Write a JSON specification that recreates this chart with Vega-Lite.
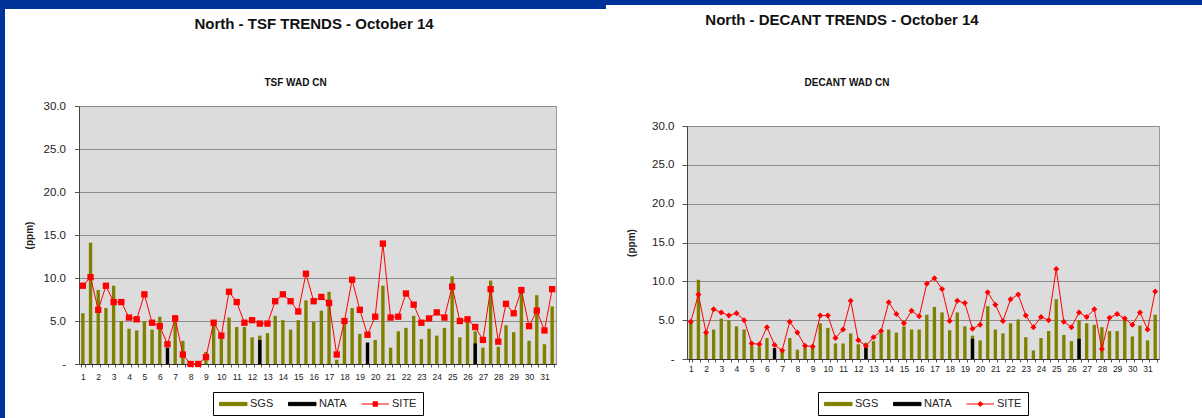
{
  "$schema": "https://vega.github.io/schema/vega-lite/v6.json",
  "padding": 0,
  "spacing": 0,
  "config": {
    "font": "Liberation Sans",
    "view": {"stroke": null},
    "legend": {"layout": {"bottom": {"anchor": "middle"}}}
  },
  "datasets": {
    "tsf": [
      {"i":0,"SGS":5.9,"NATA":null,"SITE":9.1},
      {"i":1,"SGS":14.1,"NATA":null,"SITE":10.1},
      {"i":2,"SGS":8.6,"NATA":null,"SITE":6.3},
      {"i":3,"SGS":6.5,"NATA":null,"SITE":9.1},
      {"i":4,"SGS":9.1,"NATA":null,"SITE":7.2},
      {"i":5,"SGS":5.0,"NATA":null,"SITE":7.2},
      {"i":6,"SGS":4.1,"NATA":null,"SITE":5.4},
      {"i":7,"SGS":3.9,"NATA":null,"SITE":5.2},
      {"i":8,"SGS":5.0,"NATA":null,"SITE":8.1},
      {"i":9,"SGS":4.0,"NATA":null,"SITE":4.8},
      {"i":10,"SGS":5.5,"NATA":null,"SITE":4.4},
      {"i":11,"SGS":null,"NATA":1.9,"SITE":2.3},
      {"i":12,"SGS":5.7,"NATA":null,"SITE":5.3},
      {"i":13,"SGS":2.7,"NATA":null,"SITE":1.1},
      {"i":14,"SGS":null,"NATA":null,"SITE":0.0},
      {"i":15,"SGS":null,"NATA":null,"SITE":0.0},
      {"i":16,"SGS":1.4,"NATA":null,"SITE":0.8},
      {"i":17,"SGS":4.6,"NATA":null,"SITE":4.8},
      {"i":18,"SGS":3.1,"NATA":null,"SITE":3.3},
      {"i":19,"SGS":5.4,"NATA":null,"SITE":8.4},
      {"i":20,"SGS":4.3,"NATA":null,"SITE":7.2},
      {"i":21,"SGS":4.3,"NATA":null,"SITE":4.8},
      {"i":22,"SGS":3.1,"NATA":null,"SITE":5.1},
      {"i":23,"SGS":3.3,"NATA":2.8,"SITE":4.7},
      {"i":24,"SGS":3.6,"NATA":null,"SITE":4.7},
      {"i":25,"SGS":5.6,"NATA":null,"SITE":7.3},
      {"i":26,"SGS":5.1,"NATA":null,"SITE":8.1},
      {"i":27,"SGS":4.0,"NATA":null,"SITE":7.3},
      {"i":28,"SGS":5.1,"NATA":null,"SITE":6.1},
      {"i":29,"SGS":7.4,"NATA":null,"SITE":10.5},
      {"i":30,"SGS":4.9,"NATA":null,"SITE":7.3},
      {"i":31,"SGS":6.2,"NATA":null,"SITE":7.8},
      {"i":32,"SGS":8.4,"NATA":null,"SITE":7.1},
      {"i":33,"SGS":0.5,"NATA":null,"SITE":1.1},
      {"i":34,"SGS":5.0,"NATA":null,"SITE":5.0},
      {"i":35,"SGS":6.5,"NATA":null,"SITE":9.8},
      {"i":36,"SGS":3.5,"NATA":null,"SITE":6.3},
      {"i":37,"SGS":null,"NATA":2.5,"SITE":3.4},
      {"i":38,"SGS":2.8,"NATA":null,"SITE":5.5},
      {"i":39,"SGS":9.1,"NATA":null,"SITE":14.0},
      {"i":40,"SGS":1.9,"NATA":null,"SITE":5.4},
      {"i":41,"SGS":3.8,"NATA":null,"SITE":5.5},
      {"i":42,"SGS":4.2,"NATA":null,"SITE":8.2},
      {"i":43,"SGS":5.6,"NATA":null,"SITE":6.9},
      {"i":44,"SGS":2.9,"NATA":null,"SITE":4.8},
      {"i":45,"SGS":4.1,"NATA":null,"SITE":5.3},
      {"i":46,"SGS":3.3,"NATA":null,"SITE":6.0},
      {"i":47,"SGS":4.2,"NATA":null,"SITE":5.4},
      {"i":48,"SGS":10.2,"NATA":null,"SITE":9.0},
      {"i":49,"SGS":3.1,"NATA":null,"SITE":5.0},
      {"i":50,"SGS":5.0,"NATA":null,"SITE":5.2},
      {"i":51,"SGS":3.8,"NATA":2.4,"SITE":4.3},
      {"i":52,"SGS":1.9,"NATA":null,"SITE":2.8},
      {"i":53,"SGS":9.7,"NATA":null,"SITE":8.7},
      {"i":54,"SGS":2.0,"NATA":null,"SITE":2.6},
      {"i":55,"SGS":4.5,"NATA":null,"SITE":7.0},
      {"i":56,"SGS":3.7,"NATA":null,"SITE":5.9},
      {"i":57,"SGS":8.5,"NATA":null,"SITE":8.6},
      {"i":58,"SGS":2.7,"NATA":null,"SITE":4.4},
      {"i":59,"SGS":8.0,"NATA":null,"SITE":6.2},
      {"i":60,"SGS":2.3,"NATA":null,"SITE":3.9},
      {"i":61,"SGS":6.7,"NATA":null,"SITE":8.7}
    ],
    "decant": [
      {"i":0,"SGS":4.8,"NATA":null,"SITE":4.8},
      {"i":1,"SGS":10.2,"NATA":null,"SITE":8.3},
      {"i":2,"SGS":3.4,"NATA":null,"SITE":3.4},
      {"i":3,"SGS":3.8,"NATA":null,"SITE":6.4},
      {"i":4,"SGS":5.2,"NATA":null,"SITE":6.0},
      {"i":5,"SGS":5.0,"NATA":null,"SITE":5.6},
      {"i":6,"SGS":4.2,"NATA":null,"SITE":5.9},
      {"i":7,"SGS":3.8,"NATA":null,"SITE":5.0},
      {"i":8,"SGS":1.7,"NATA":null,"SITE":2.0},
      {"i":9,"SGS":1.6,"NATA":null,"SITE":1.9},
      {"i":10,"SGS":2.7,"NATA":null,"SITE":4.1},
      {"i":11,"SGS":null,"NATA":1.4,"SITE":1.8},
      {"i":12,"SGS":1.0,"NATA":null,"SITE":1.1},
      {"i":13,"SGS":2.7,"NATA":null,"SITE":4.8},
      {"i":14,"SGS":1.2,"NATA":null,"SITE":3.4},
      {"i":15,"SGS":1.5,"NATA":null,"SITE":1.7},
      {"i":16,"SGS":1.6,"NATA":null,"SITE":1.6},
      {"i":17,"SGS":4.6,"NATA":null,"SITE":5.6},
      {"i":18,"SGS":4.0,"NATA":null,"SITE":5.6},
      {"i":19,"SGS":2.0,"NATA":null,"SITE":2.7},
      {"i":20,"SGS":2.0,"NATA":null,"SITE":3.8},
      {"i":21,"SGS":3.3,"NATA":null,"SITE":7.5},
      {"i":22,"SGS":1.9,"NATA":null,"SITE":2.4},
      {"i":23,"SGS":2.1,"NATA":1.5,"SITE":1.7},
      {"i":24,"SGS":2.3,"NATA":null,"SITE":2.8},
      {"i":25,"SGS":3.3,"NATA":null,"SITE":3.6},
      {"i":26,"SGS":3.8,"NATA":null,"SITE":7.3},
      {"i":27,"SGS":3.4,"NATA":null,"SITE":5.8},
      {"i":28,"SGS":4.2,"NATA":null,"SITE":4.6},
      {"i":29,"SGS":3.8,"NATA":null,"SITE":6.2},
      {"i":30,"SGS":3.8,"NATA":null,"SITE":5.5},
      {"i":31,"SGS":5.7,"NATA":null,"SITE":9.7},
      {"i":32,"SGS":6.7,"NATA":null,"SITE":10.4},
      {"i":33,"SGS":6.0,"NATA":null,"SITE":9.0},
      {"i":34,"SGS":3.7,"NATA":null,"SITE":4.9},
      {"i":35,"SGS":6.0,"NATA":null,"SITE":7.5},
      {"i":36,"SGS":4.2,"NATA":null,"SITE":7.2},
      {"i":37,"SGS":3.0,"NATA":2.6,"SITE":3.9},
      {"i":38,"SGS":2.4,"NATA":null,"SITE":4.4},
      {"i":39,"SGS":6.8,"NATA":null,"SITE":8.6},
      {"i":40,"SGS":3.8,"NATA":null,"SITE":7.0},
      {"i":41,"SGS":3.3,"NATA":null,"SITE":4.9},
      {"i":42,"SGS":4.6,"NATA":null,"SITE":7.7},
      {"i":43,"SGS":5.1,"NATA":null,"SITE":8.3},
      {"i":44,"SGS":2.8,"NATA":null,"SITE":5.6},
      {"i":45,"SGS":1.1,"NATA":null,"SITE":4.1},
      {"i":46,"SGS":2.7,"NATA":null,"SITE":5.4},
      {"i":47,"SGS":3.6,"NATA":null,"SITE":5.0},
      {"i":48,"SGS":7.7,"NATA":null,"SITE":11.6},
      {"i":49,"SGS":3.1,"NATA":null,"SITE":4.8},
      {"i":50,"SGS":2.3,"NATA":null,"SITE":4.1},
      {"i":51,"SGS":5.0,"NATA":2.6,"SITE":6.0},
      {"i":52,"SGS":4.6,"NATA":null,"SITE":5.4},
      {"i":53,"SGS":4.4,"NATA":null,"SITE":6.4},
      {"i":54,"SGS":4.1,"NATA":null,"SITE":1.3},
      {"i":55,"SGS":3.6,"NATA":null,"SITE":5.3},
      {"i":56,"SGS":3.6,"NATA":null,"SITE":5.8},
      {"i":57,"SGS":5.1,"NATA":null,"SITE":5.2},
      {"i":58,"SGS":2.9,"NATA":null,"SITE":4.4},
      {"i":59,"SGS":4.3,"NATA":null,"SITE":6.0},
      {"i":60,"SGS":2.4,"NATA":null,"SITE":3.8},
      {"i":61,"SGS":5.7,"NATA":null,"SITE":8.7}
    ]
  },
  "resolve": {"scale": {"color": "independent"}, "legend": {"color": "independent"}},
  "vconcat": [
    {
      "spacing": 0,
      "hconcat": [
        {"width": 606, "height": 9, "data": {"values": []}, "mark": "rect", "view": {"fill": "#003399", "stroke": null}},
        {"width": 596, "height": 5, "data": {"values": []}, "mark": "rect", "view": {"fill": "#003399", "stroke": null}}
      ]
    },
    {
      "spacing": 18,
      "resolve": {"scale": {"color": "independent"}, "legend": {"color": "independent"}},
      "hconcat": [
        {"width": 5, "height": 409, "data": {"values": []}, "mark": "rect", "view": {"fill": "#003399", "stroke": null}},
        {
          "spacing": 69,
          "resolve": {"scale": {"color": "independent"}, "legend": {"color": "independent"}},
          "hconcat": [
            {
              "spacing": 38,
              "resolve": {"scale": {"color": "independent"}, "legend": {"color": "independent"}},
              "vconcat": [
                {
                  "width": 470, "height": 30,
                  "data": {"values": [{"t": "North - TSF TRENDS - October 14"}]},
                  "mark": {"type": "text", "fontSize": 15, "fontWeight": "bold", "color": "#111111"},
                  "encoding": {"text": {"field": "t", "type": "nominal"}}
                },
                {
                  "title": {"text": "TSF WAD CN", "fontSize": 10, "fontWeight": "bold", "color": "#111111", "frame": "group", "anchor": "middle", "dx": -22, "offset": 12},
                  "width": 477, "height": 258,
                  "view": {"fill": "#dcdcdc", "stroke": "#9a9a9a"},
                  "data": {"name": "tsf"},
                  "transform": [{"fold": ["SGS", "NATA", "SITE"], "as": ["series", "v"]}],
                  "encoding": {
                    "x": {"field": "i", "type": "ordinal", "title": null,
                      "scale": {"paddingInner": 0.56, "paddingOuter": 0.28},
                      "axis": {"labelExpr": "datum.value % 2 == 0 ? '' + (datum.value / 2 + 1) : ''", "labelAngle": 0, "labelOverlap": false, "tickBand": "extent", "tickSize": 3, "tickColor": "#555555", "domainColor": "#333333", "labelFontSize": 8.5, "labelColor": "#222222", "labelPadding": 5, "grid": false}},
                    "y": {"field": "v", "type": "quantitative", "stack": null, "title": "(ppm)",
                      "scale": {"domain": [0, 30]},
                      "axis": {"values": [0, 5, 10, 15, 20, 25, 30], "labelExpr": "datum.value == 0 ? '-' : format(datum.value, '.1f')", "titleFontSize": 10, "titleFontWeight": "bold", "titleColor": "#222222", "titlePadding": 9, "labelFontSize": 11.5, "labelColor": "#222222", "labelPadding": 9, "tickSize": 4.5, "tickColor": "#555555", "domainColor": "#444444", "grid": true, "gridColor": "#8c8c8c"}},
                    "color": {"field": "series", "type": "nominal",
                      "scale": {"domain": ["SGS", "NATA", "SITE"], "range": ["#808000", "#000000", "#ff0000"]},
                      "legend": {"orient": "bottom", "direction": "horizontal", "title": null, "offset": 11, "symbolSize": 121, "labelFontSize": 11, "labelColor": "#222222", "labelOffset": 19, "columnPadding": 12, "padding": 6, "strokeColor": "#000000", "fillColor": "#ffffff",
                        "encode": {"symbols": {"update": {
                          "shape": {"signal": "datum.value === 'SITE' ? 'M-1,0H4M1.1,-0.4H1.9V0.4H1.1Z' : 'M-1,-0.3H4V0.3H-1Z'"},
                          "fill": {"signal": "datum.value === 'SGS' ? '#808000' : datum.value === 'NATA' ? '#000000' : '#ff0000'"},
                          "stroke": {"signal": "datum.value === 'SITE' ? '#ff0000' : 'transparent'"},
                          "strokeWidth": {"value": 1},
                          "opacity": {"value": 1}
                        }}}}}
                  },
                  "layer": [
                    {"transform": [{"filter": "datum.series != 'SITE'"}], "mark": {"type": "bar"}},
                    {"transform": [{"filter": "datum.series == 'SITE'"}], "mark": {"type": "line", "strokeWidth": 1, "point": {"filled": true, "shape": "square", "size": 40}}}
                  ]
                }
              ]
            },
            {
              "spacing": 46,
              "resolve": {"scale": {"color": "independent"}, "legend": {"color": "independent"}},
              "vconcat": [
                {
                  "width": 310, "height": 22,
                  "data": {"values": [{"t": "North - DECANT TRENDS - October 14"}]},
                  "mark": {"type": "text", "fontSize": 15, "fontWeight": "bold", "color": "#111111"},
                  "encoding": {"text": {"field": "t", "type": "nominal"}}
                },
                {
                  "title": {"text": "DECANT WAD CN", "fontSize": 10, "fontWeight": "bold", "color": "#111111", "frame": "group", "anchor": "middle", "dx": -76, "offset": 32},
                  "width": 472, "height": 233,
                  "view": {"fill": "#dcdcdc", "stroke": "#9a9a9a"},
                  "data": {"name": "decant"},
                  "transform": [{"fold": ["SGS", "NATA", "SITE"], "as": ["series", "v"]}],
                  "encoding": {
                    "x": {"field": "i", "type": "ordinal", "title": null,
                      "scale": {"paddingInner": 0.56, "paddingOuter": 0.28},
                      "axis": {"labelExpr": "datum.value % 2 == 0 ? '' + (datum.value / 2 + 1) : ''", "labelAngle": 0, "labelOverlap": false, "tickBand": "extent", "tickSize": 3, "tickColor": "#555555", "domainColor": "#333333", "labelFontSize": 8.5, "labelColor": "#222222", "labelPadding": 2, "grid": false}},
                    "y": {"field": "v", "type": "quantitative", "stack": null, "title": "(ppm)",
                      "scale": {"domain": [0, 30]},
                      "axis": {"values": [0, 5, 10, 15, 20, 25, 30], "labelExpr": "datum.value == 0 ? '-' : format(datum.value, '.1f')", "titleFontSize": 10, "titleFontWeight": "bold", "titleColor": "#222222", "titlePadding": 15, "labelFontSize": 11.5, "labelColor": "#222222", "labelPadding": 8, "tickSize": 5, "tickColor": "#555555", "domainColor": "#444444", "grid": true, "gridColor": "#8c8c8c"}},
                    "color": {"field": "series", "type": "nominal",
                      "scale": {"domain": ["SGS", "NATA", "SITE"], "range": ["#808000", "#000000", "#ff0000"]},
                      "legend": {"orient": "bottom", "direction": "horizontal", "title": null, "offset": 19, "symbolSize": 121, "labelFontSize": 11, "labelColor": "#222222", "labelOffset": 19, "columnPadding": 12, "padding": 6, "strokeColor": "#000000", "fillColor": "#ffffff",
                        "encode": {"symbols": {"update": {
                          "shape": {"signal": "datum.value === 'SITE' ? 'M-1,0H4M1.5,-0.45L1.95,0L1.5,0.45L1.05,0Z' : 'M-1,-0.3H4V0.3H-1Z'"},
                          "fill": {"signal": "datum.value === 'SGS' ? '#808000' : datum.value === 'NATA' ? '#000000' : '#ff0000'"},
                          "stroke": {"signal": "datum.value === 'SITE' ? '#ff0000' : 'transparent'"},
                          "strokeWidth": {"value": 1},
                          "opacity": {"value": 1}
                        }}}}}
                  },
                  "layer": [
                    {"transform": [{"filter": "datum.series != 'SITE'"}], "mark": {"type": "bar"}},
                    {"transform": [{"filter": "datum.series == 'SITE'"}], "mark": {"type": "line", "strokeWidth": 1, "point": {"filled": true, "shape": "diamond", "size": 36}}}
                  ]
                }
              ]
            }
          ]
        }
      ]
    }
  ]
}
